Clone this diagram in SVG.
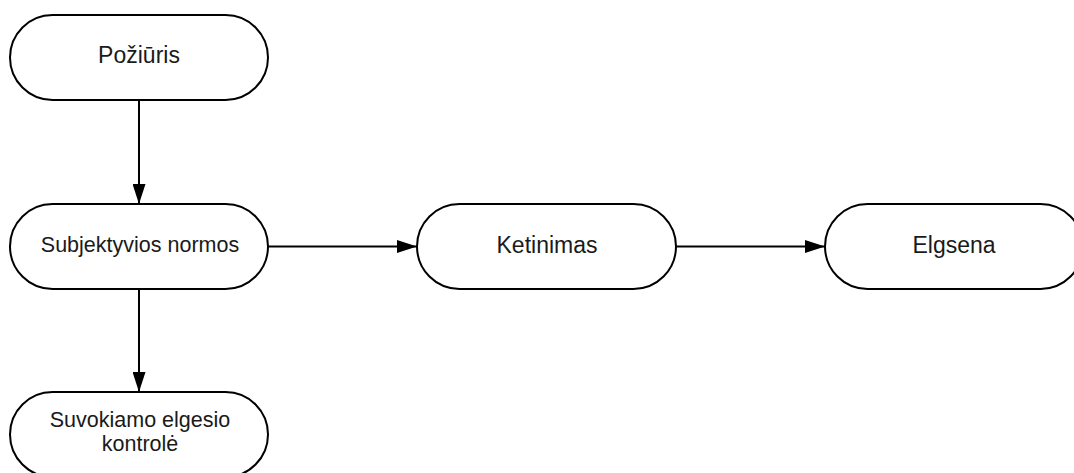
<svg xmlns="http://www.w3.org/2000/svg" width="1074" height="473" viewBox="0 0 1074 473">
<style>
.node{fill:#fff;stroke:#000;stroke-width:2}
.t{font-family:"Liberation Sans",Arial,sans-serif;fill:#1a1a1a;text-anchor:middle}
.big{font-size:23px}
.sm{font-size:21.5px}
.edge{stroke:#000;stroke-width:2;fill:none}
</style>
<defs>
<marker id="ah" markerWidth="20" markerHeight="13" refX="20" refY="6.5" orient="auto" markerUnits="userSpaceOnUse">
<path d="M0,0 L20,6.5 L0,13 Z" fill="#000"/>
</marker>
</defs>
<rect width="1074" height="473" fill="#fff"/>
<g id="connectors">
<line class="edge" x1="139" y1="100" x2="139" y2="204" marker-end="url(#ah)"/>
<line class="edge" x1="139" y1="289" x2="139" y2="392" marker-end="url(#ah)"/>
<line class="edge" x1="268" y1="246.5" x2="417" y2="246.5" marker-end="url(#ah)"/>
<line class="edge" x1="676" y1="246.5" x2="825" y2="246.5" marker-end="url(#ah)"/>
</g>
<g id="poziuris">
<rect class="node" x="10" y="15" width="258" height="85" rx="42.5" ry="42.5"/>
<text class="t big" x="139" y="63">Požiūris</text>
</g>
<g id="subjektyvios">
<rect class="node" x="10" y="204" width="258" height="85" rx="42.5" ry="42.5"/>
<text class="t sm" x="140" y="252">Subjektyvios normos</text>
</g>
<g id="ketinimas">
<rect class="node" x="417" y="204" width="259" height="85" rx="42.5" ry="42.5"/>
<text class="t big" x="547" y="252.5">Ketinimas</text>
</g>
<g id="elgsena">
<rect class="node" x="825" y="204" width="258" height="85" rx="42.5" ry="42.5"/>
<text class="t big" x="954" y="252.5">Elgsena</text>
</g>
<g id="kontrole">
<rect class="node" x="10" y="392" width="258" height="85" rx="42.5" ry="42.5"/>
<text class="t sm" x="140" y="426.5">Suvokiamo elgesio</text>
<text class="t sm" x="140" y="450.5">kontrolė</text>
</g>
</svg>
